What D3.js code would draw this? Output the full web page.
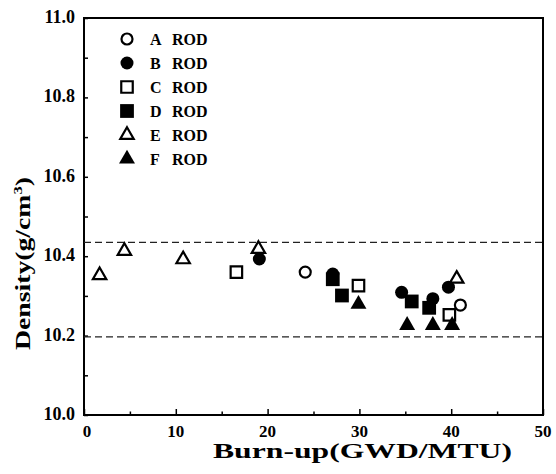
<!DOCTYPE html>
<html>
<head>
<meta charset="utf-8">
<script src="https://cdn.jsdelivr.net/npm/d3@7"></script>
<style>
  html, body { margin: 0; padding: 0; background: #fff; }
  svg { display: block; }
  text { font-family: "Liberation Serif", "Times New Roman", serif; font-weight: bold; fill: #000; }
</style>
</head>
<body>
<svg id="chart" width="556" height="474"></svg>
<script>
// ---- data ----
const xTicks = [0, 10, 20, 30, 40, 50];
const yTicks = [10.0, 10.2, 10.4, 10.6, 10.8, 11.0];
const refLines = [10.435, 10.197];
const seriesNames = ["A ROD", "B ROD", "C ROD", "D ROD", "E ROD", "F ROD"];
const rodA = [[24.1, 10.360], [41.0, 10.277]];
const rodB = [[19.1, 10.393], [27.1, 10.355], [34.6, 10.309], [38.0, 10.293], [39.7, 10.322]];
const rodC = [[16.6, 10.360], [29.9, 10.326], [39.8, 10.252]];
const rodD = [[27.1, 10.342], [28.1, 10.301], [35.7, 10.286], [37.6, 10.270]];
const rodE = [[1.7, 10.352], [4.4, 10.413], [10.8, 10.392], [19.0, 10.418], [40.6, 10.343]];
const rodF = [[29.9, 10.279], [35.2, 10.226], [38.0, 10.226], [40.1, 10.226]];

const seriesData = [rodA, rodB, rodC, rodD, rodE, rodF];
const shapes = [
  {type: d3.symbolCircle, size: 95, filled: false},
  {type: d3.symbolCircle, size: 133, filled: true},
  {type: d3.symbolSquare, size: 132, filled: false},
  {type: d3.symbolSquare, size: 190, filled: true},
  {type: d3.symbolTriangle, size: 78, filled: false},
  {type: d3.symbolTriangle, size: 110, filled: true}
];

const svg = d3.select("#chart");
const x = d3.scaleLinear().domain([0, 50]).range([84, 543]);
const y = d3.scaleLinear().domain([10, 11]).range([415, 18]);

// frame
svg.append("rect")
  .attr("x", x(0)).attr("y", y(11))
  .attr("width", x(50) - x(0)).attr("height", y(10) - y(11))
  .attr("fill", "none").attr("stroke", "#000").attr("stroke-width", 2);

// x axis ticks (inward)
const xAxis = d3.axisBottom(x).tickValues(d3.range(0, 51, 5))
  .tickSizeInner(-6).tickSizeOuter(0).tickFormat("");
svg.append("g").attr("transform", `translate(0,${y(10)})`).call(xAxis)
  .call(g => g.select(".domain").remove())
  .call(g => g.selectAll(".tick line").attr("stroke-width", 1.5)
    .attr("y2", d => d % 10 === 0 ? -6 : -3.5));
svg.append("g").selectAll("text").data(xTicks).join("text")
  .attr("x", d => x(d) + (d === 0 ? 3 : 0)).attr("y", 437)
  .attr("text-anchor", "middle").attr("font-size", 17)
  .text(d => d);

// y axis ticks (inward)
const yAxis = d3.axisLeft(y).tickValues(d3.range(0, 11).map(i => 10 + i / 10))
  .tickSizeInner(-4).tickSizeOuter(0).tickFormat("");
svg.append("g").attr("transform", `translate(${x(0)},0)`).call(yAxis)
  .call(g => g.select(".domain").remove())
  .call(g => g.selectAll(".tick line").attr("stroke-width", 1.5));
svg.append("g").selectAll("text").data(yTicks).join("text")
  .attr("x", 75).attr("y", d => y(d) + 5)
  .attr("text-anchor", "end").attr("font-size", 18)
  .text(d => d3.format(".1f")(d));

// reference dashed lines
svg.append("g").selectAll("line").data(refLines).join("line")
  .attr("x1", x(0)).attr("x2", x(50))
  .attr("y1", d => y(d)).attr("y2", d => y(d))
  .attr("stroke", "#222").attr("stroke-width", 1.3)
  .attr("stroke-dasharray", "7,4");

// axis titles
svg.append("text")
  .attr("x", 213).attr("y", 458)
  .attr("font-size", 20)
  .attr("textLength", 299).attr("lengthAdjust", "spacingAndGlyphs")
  .text("Burn-up(GWD/MTU)");

const yt = svg.append("text")
  .attr("transform", "translate(30,350) rotate(-90)")
  .attr("font-size", 20)
  .attr("textLength", 173).attr("lengthAdjust", "spacingAndGlyphs");
yt.append("tspan").text("Density(g/cm");
yt.append("tspan").attr("font-size", 12).attr("dy", -8).text("3");
yt.append("tspan").attr("dy", 8).text(")");

// points
const sym = d3.symbol();
seriesData.forEach((data, i) => {
  const s = shapes[i];
  svg.append("g").selectAll("path").data(data).join("path")
    .attr("transform", d => `translate(${x(d[0])},${y(d[1])})`)
    .attr("d", sym.type(s.type).size(s.size)())
    .attr("fill", s.filled ? "#000" : "#fff")
    .attr("stroke", "#000")
    .attr("stroke-width", s.filled ? 0 : 2.2);
});

// legend
const lg = svg.append("g");
seriesNames.forEach((name, i) => {
  const s = shapes[i];
  const cy = 39 + i * 24;
  lg.append("path")
    .attr("transform", `translate(127,${cy})`)
    .attr("d", sym.type(s.type).size(s.size)())
    .attr("fill", s.filled ? "#000" : "#fff")
    .attr("stroke", "#000")
    .attr("stroke-width", s.filled ? 0 : 2.2);
  const parts = name.split(" ");
  lg.append("text").attr("x", 150).attr("y", cy + 6).attr("font-size", 16).text(parts[0]);
  lg.append("text").attr("x", 172).attr("y", cy + 6).attr("font-size", 16).text(parts[1]);
});
</script>
</body>
</html>
